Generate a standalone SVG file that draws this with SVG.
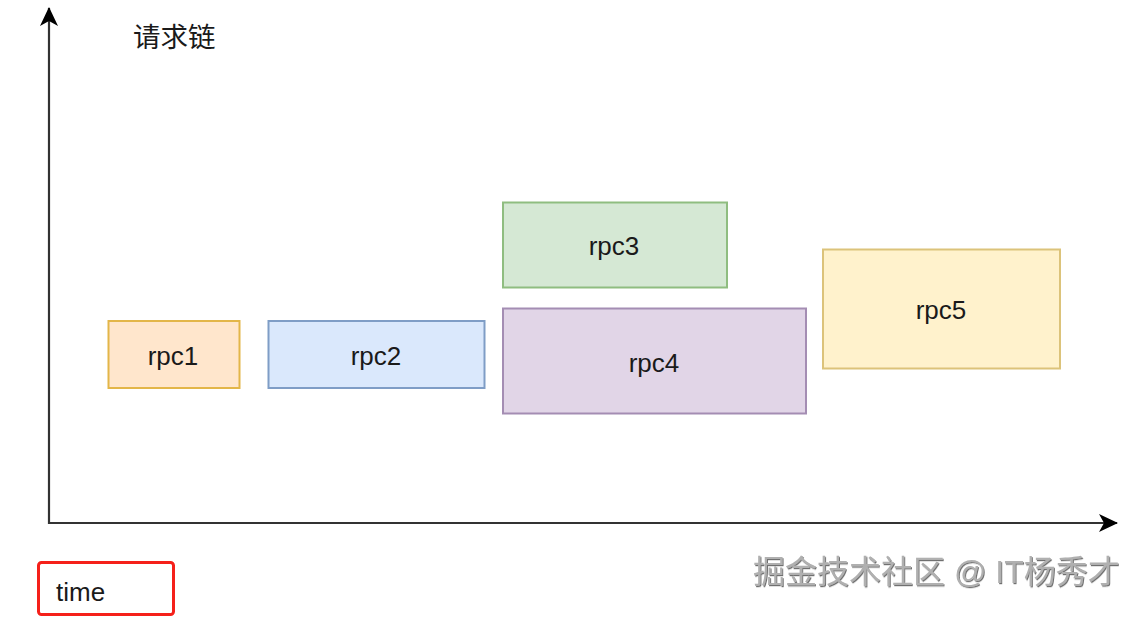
<svg xmlns="http://www.w3.org/2000/svg" width="1141" height="621" viewBox="0 0 1141 621">
<style>
.lbl{font-family:"Liberation Sans",Arial,sans-serif;font-size:26px;fill:#1a1a1a;text-anchor:middle}
.cjk{font-family:"Liberation Sans","Noto Sans CJK SC",sans-serif}
.box{stroke-width:2}
.axis{stroke:#333;stroke-width:2.2;fill:none}
</style>
<defs>
<marker id="ah" markerUnits="userSpaceOnUse" markerWidth="24" markerHeight="24" refX="18" refY="9" orient="auto" viewBox="0 0 24 18">
<path d="M0,0 L19,9 L0,18 L5,9 Z" fill="#000"/>
</marker>
<filter id="emb" x="-5%" y="-20%" width="110%" height="140%">
<feDropShadow dx="1" dy="1.2" stdDeviation="0.6" flood-color="#333" flood-opacity="0.7"/>
</filter>
</defs>
<rect width="1141" height="621" fill="#fff"/>
<g id="connectors">
<path class="axis" d="M49,524 L49,8" marker-end="url(#ah)"/>
<path class="axis" d="M48,523 L1117,523" marker-end="url(#ah)"/>
</g>
<g id="ylabel">
<text class="cjk" x="133" y="47" font-size="27.5" fill="#1a1a1a">请求链</text>
</g>
<g id="rpc1">
<rect class="box" x="108.5" y="321" width="131" height="67" fill="#ffe6cc" stroke="#e3b649"/>
<text class="lbl" x="173" y="365">rpc1</text>
</g>
<g id="rpc2">
<rect class="box" x="268.5" y="321" width="216" height="67" fill="#dae8fc" stroke="#7f9dc6"/>
<text class="lbl" x="376" y="365">rpc2</text>
</g>
<g id="rpc3">
<rect class="box" x="503" y="202.5" width="224" height="85" fill="#d5e8d4" stroke="#8fbd80"/>
<text class="lbl" x="614" y="255">rpc3</text>
</g>
<g id="rpc4">
<rect class="box" x="503" y="308.5" width="303" height="105" fill="#e1d5e7" stroke="#a48db3"/>
<text class="lbl" x="654" y="372">rpc4</text>
</g>
<g id="rpc5">
<rect class="box" x="823" y="249.5" width="237" height="119" fill="#fff2cc" stroke="#dcc37a"/>
<text class="lbl" x="941" y="319">rpc5</text>
</g>
<g id="time">
<rect x="38.5" y="562.5" width="135" height="52" rx="3" fill="none" stroke="#f5201a" stroke-width="3"/>
<text x="56" y="601" font-family="Liberation Sans,Arial,sans-serif" font-size="26" fill="#1a1a1a">time</text>
</g>
<g id="watermark">
<text class="cjk" x="753" y="583" font-size="32" fill="#b0b0b0" filter="url(#emb)">掘金技术社区 @ IT杨秀才</text>
</g>
</svg>
